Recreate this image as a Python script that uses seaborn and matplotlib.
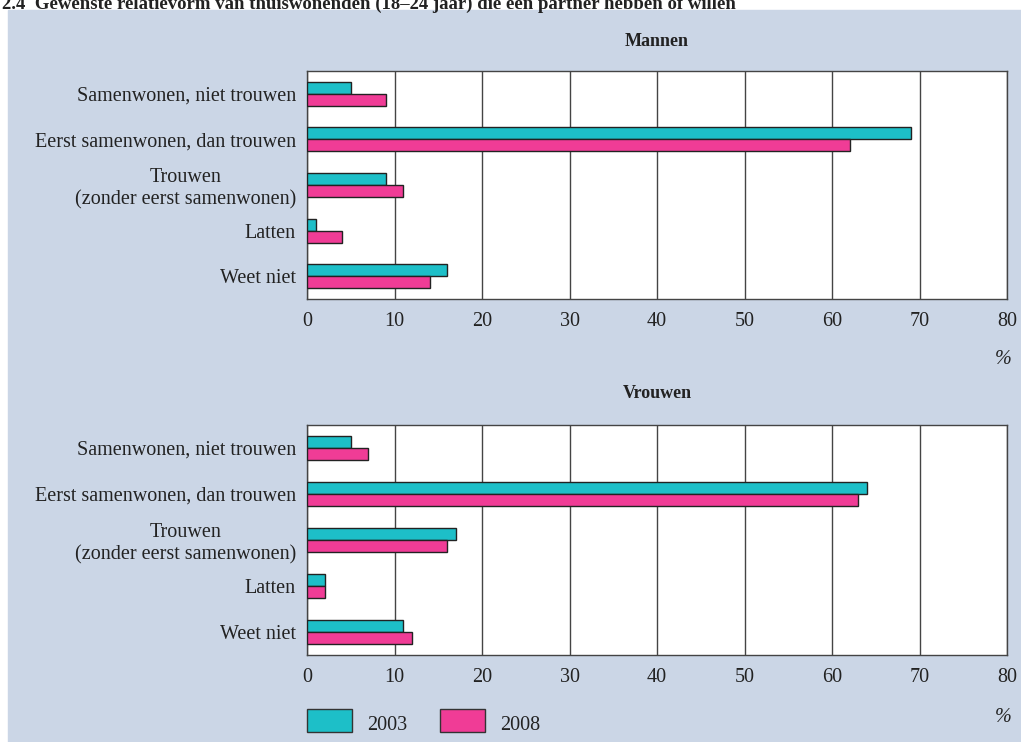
import pandas as pd
import matplotlib.pyplot as plt
import seaborn as sns
from matplotlib.patches import Rectangle

# data
categories = ['Samenwonen, niet trouwen', 'Eerst samenwonen, dan trouwen',
              'Trouwen\n(zonder eerst samenwonen)', 'Latten', 'Weet niet']
years = ['2003', '2008']
mannen_2003 = [5, 69, 9, 1, 16]
mannen_2008 = [9, 62, 11, 4, 14]
vrouwen_2003 = [5, 64, 17, 2, 11]
vrouwen_2008 = [7, 63, 16, 2, 12]
xticks = [0, 10, 20, 30, 40, 50, 60, 70, 80]

colors = {'2003': '#1dbfc8', '2008': '#f03c96'}
bg = '#cbd6e6'
fs = 14.5


def make_df(v03, v08):
    rows = []
    for c, a, b in zip(categories, v03, v08):
        rows.append({'cat': c, 'jaar': '2003', 'pct': a})
        rows.append({'cat': c, 'jaar': '2008', 'pct': b})
    return pd.DataFrame(rows)


sns.set_style('white')
plt.rcParams['font.family'] = ['Liberation Serif', 'DejaVu Serif']

fig = plt.figure(figsize=(10.21, 7.42), dpi=100)
W, H = 1021, 742
fig.patches.append(Rectangle((8 / W, 0), 1 - 8 / W, 1 - 10 / H,
                             transform=fig.transFigure, color=bg, zorder=-10))

fig.text(2 / W, 1 - 4 / H,
         '2.4  Gewenste relatievorm van thuiswonenden (18–24 jaar) die een partner hebben of willen',
         fontsize=13.5, fontweight='bold', va='center', ha='left', color='#222222')

panels = [('Mannen', mannen_2003, mannen_2008, 71, 299, 42, 360),
          ('Vrouwen', vrouwen_2003, vrouwen_2008, 425, 655, 393, 718)]

for title, v03, v08, top, bottom, ty, py in panels:
    ax = fig.add_axes([307 / W, 1 - bottom / H, 700 / W, (bottom - top) / H])
    df = make_df(v03, v08)
    sns.barplot(data=df, y='cat', x='pct', hue='jaar', palette=colors,
                saturation=1, orient='h', width=0.53, edgecolor='#222222',
                linewidth=1, legend=False, ax=ax, zorder=3)
    ax.set_facecolor('white')
    ax.set_xlim(0, 80)
    ax.set_xticks(xticks)
    ax.grid(axis='x', color='#444444', linewidth=1, zorder=0)
    ax.set_axisbelow(True)
    ax.set_xlabel('')
    ax.set_ylabel('')
    ax.tick_params(axis='both', length=0, labelsize=fs, labelcolor='#222222')
    ax.tick_params(axis='x', pad=9)
    ax.tick_params(axis='y', pad=8)
    for lab in ax.get_yticklabels():
        lab.set_multialignment('center')
    for s in ax.spines.values():
        s.set_color('#444444')
        s.set_linewidth(1)
    fig.text(657 / W, 1 - ty / H, title, fontsize=13, fontweight='bold',
             ha='center', va='center', color='#222222')
    fig.text(1012 / W, 1 - py / H, '%', fontsize=fs, fontstyle='italic',
             ha='right', va='center', color='#222222')

# legend
for x0, yr in [(307, '2003'), (440, '2008')]:
    fig.patches.append(Rectangle((x0 / W, 1 - 732 / H), 45 / W, 23 / H,
                                 transform=fig.transFigure, facecolor=colors[yr],
                                 edgecolor='#333333', linewidth=1))
    fig.text((x0 + 60) / W, 1 - 726 / H, yr, fontsize=fs, ha='left',
             va='center', color='#222222')

plt.savefig('out.png', dpi=100)
